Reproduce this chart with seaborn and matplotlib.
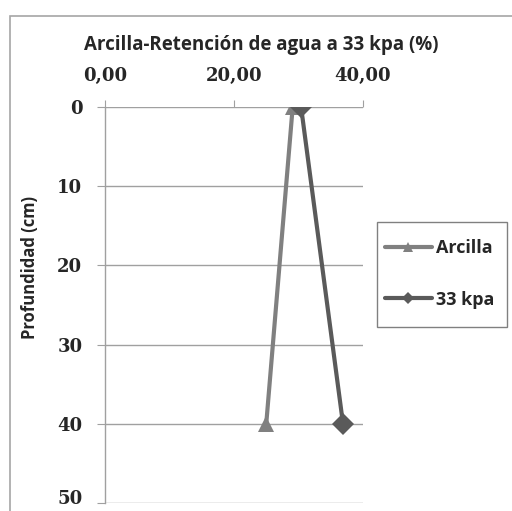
import matplotlib
matplotlib.use("Agg")
import matplotlib.pyplot as plt
import seaborn as sns
import pandas as pd
from matplotlib.patches import Rectangle
from matplotlib.ticker import FuncFormatter
from matplotlib.transforms import ScaledTranslation

# Data
depth = [0, 40]
arcilla = [29.1, 25.0]
kpa33 = [30.4, 36.9]
series_names = ["Arcilla", "33 kpa"]
x_ticks = [0, 20, 40]
y_ticks = [0, 10, 20, 30, 40, 50]

df = pd.DataFrame({
    "valor": arcilla + kpa33,
    "prof": depth + depth,
    "serie": [series_names[0]] * 2 + [series_names[1]] * 2,
})

sns.set_style("white")
plt.rcParams['font.family'] = ['Open Sans', 'DejaVu Sans']

fig = plt.figure(figsize=(5.12, 5.11), dpi=100)
ax = fig.add_axes([105/512, 1-503/511, (363-105)/512, (503-107)/511])

# Outer frame (extends beyond right and bottom edges)
fig.patches.append(Rectangle((10/512, -0.05), 1.2, 1.05 - 16/511,
                             transform=fig.transFigure, fill=False,
                             edgecolor="#a6a6a6", linewidth=1.2, zorder=-2))

ax.set_xlim(0, 40)
ax.set_ylim(50, 0)
for yv in y_ticks:
    ax.axhline(yv, color="#a0a0a0", linewidth=1, zorder=0)

sns.lineplot(data=df, x="valor", y="prof", hue="serie", style="serie",
             palette={"Arcilla": "#808080", "33 kpa": "#5a5a5a"},
             markers={"Arcilla": "^", "33 kpa": "D"}, dashes=False,
             sort=False, estimator=None, linewidth=3, markersize=11,
             markeredgewidth=0, ax=ax)

ax.xaxis.tick_top()
ax.xaxis.set_label_position("top")
ax.set_xticks(x_ticks)
ax.xaxis.set_major_formatter(FuncFormatter(lambda v, p: f"{v:.2f}".replace(".", ",")))
ax.set_yticks(y_ticks)
ax.tick_params(axis="x", top=True, bottom=False, direction="out", length=5,
               color="#a0a0a0", pad=10.5, labelsize=13)
ax.tick_params(axis="y", left=True, direction="out", length=5.8, color="#a0a0a0",
               pad=10.5, labelsize=13)
for lab in ax.get_xticklabels() + ax.get_yticklabels():
    lab.set_fontfamily("DejaVu Serif")
    lab.set_fontweight("bold")
    lab.set_color("#262626")
last = ax.yaxis.get_major_ticks()[-1].label1
last.set_transform(last.get_transform() + ScaledTranslation(0, 4/72, fig.dpi_scale_trans))

for s in ["top", "right", "bottom"]:
    ax.spines[s].set_visible(False)
ax.spines["left"].set_color("#a0a0a0")
ax.spines["left"].set_linewidth(1)

ax.set_xlabel("")
ax.set_ylabel("")
fig.text(30/512, 1-267/511, "Profundidad (cm)", rotation=90, ha="center", va="center",
         fontsize=12, fontweight="bold", color="#262626")
fig.text(261/512, 1-45/511, "Arcilla-Retención de agua a 33 kpa (%)", ha="center", va="center",
         fontsize=13.5, fontweight="bold", color="#262626")

# Legend box
fig.patches.append(Rectangle((377/512, 1-327/511), 130/512, 105/511,
                             transform=fig.transFigure, fill=False,
                             edgecolor="#808080", linewidth=1, zorder=-1))
leg = ax.legend(loc="center left", bbox_to_anchor=(385/512, 1-274/511),
                bbox_transform=fig.transFigure, frameon=False,
                fontsize=13, labelspacing=1.85, handlelength=2.6, borderpad=0,
                handletextpad=0.25, borderaxespad=0, markerscale=0.6)
for t in leg.get_texts():
    t.set_fontweight("bold")
    t.set_color("#262626")

fig.savefig("out.png", dpi=100)
